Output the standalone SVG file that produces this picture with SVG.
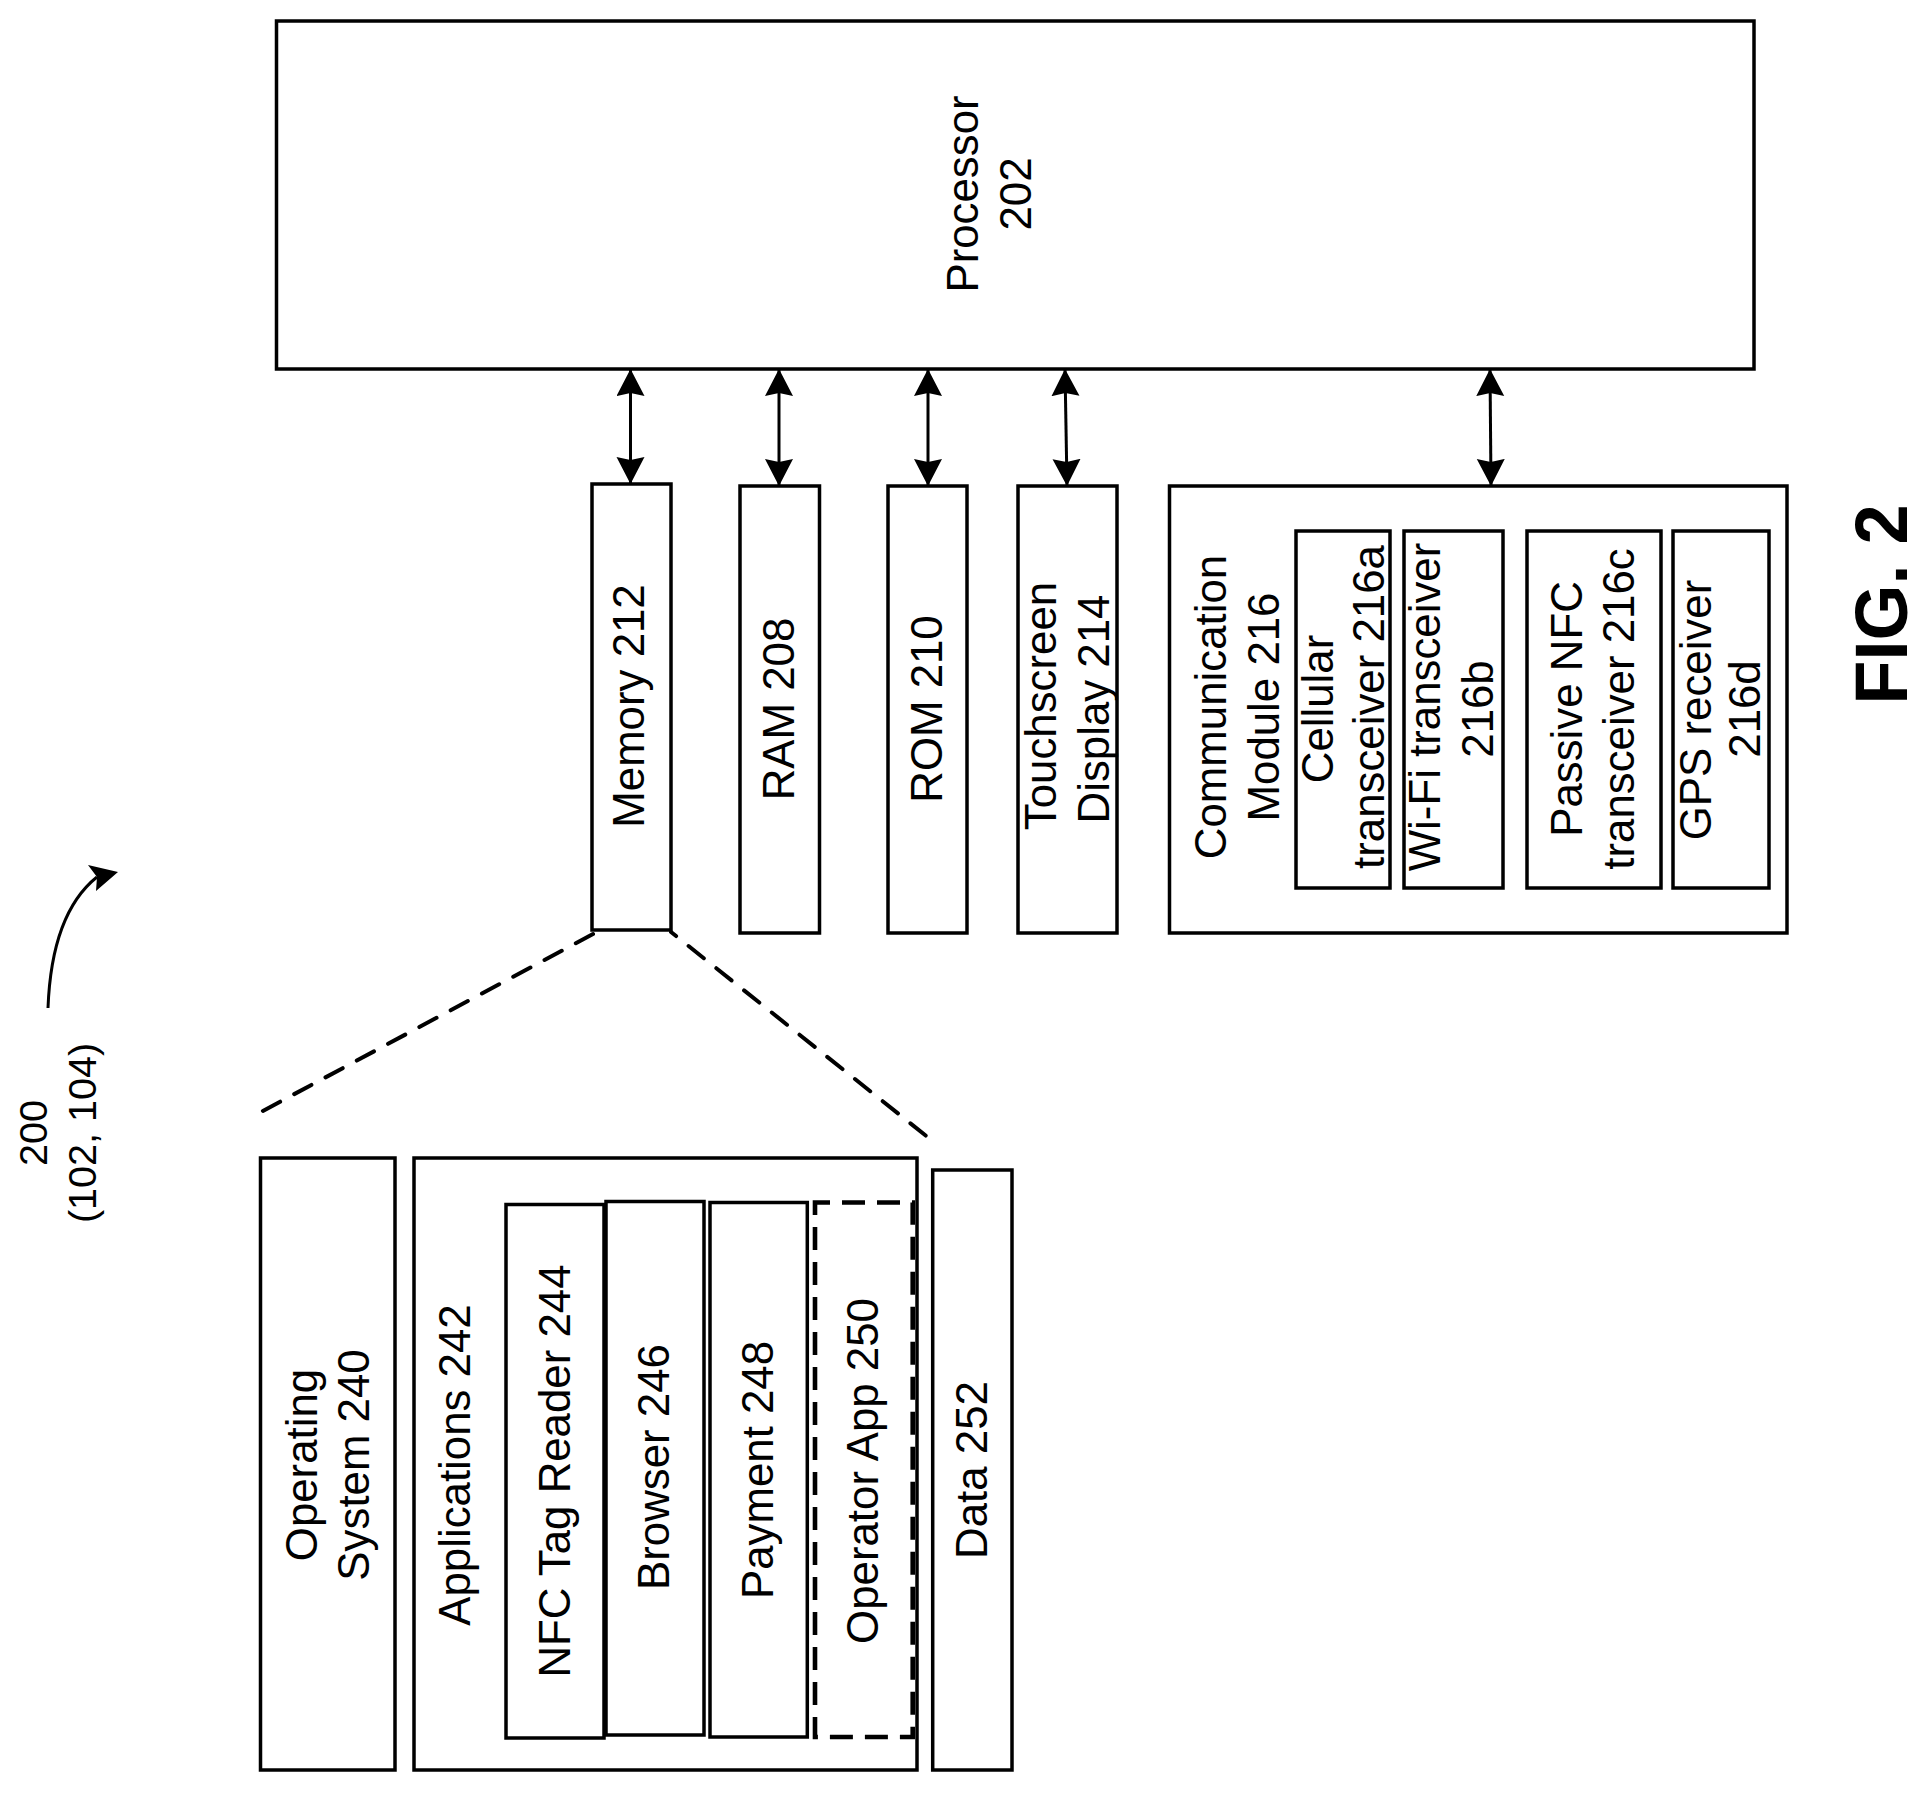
<svg xmlns="http://www.w3.org/2000/svg" width="1927" height="1793" viewBox="0 0 1927 1793">
<style>
.b{fill:#fff;stroke:#000;stroke-width:3.5}
.d{stroke-dasharray:23 12;stroke-dashoffset:8;stroke-width:4.6}
text{font-family:"Liberation Sans",Arial,sans-serif;font-size:43.8px;text-anchor:middle;fill:#000}
.ref{font-size:39.5px}
.fig{font-size:75px;font-weight:bold}
.c{fill:none;stroke:#000;stroke-width:3}
.a{marker-start:url(#ah);marker-end:url(#ah)}
.dl{stroke-dasharray:19.5 16;stroke-width:4;stroke-linecap:round}
</style>
<defs>
<marker id="ah" markerUnits="userSpaceOnUse" markerWidth="30" markerHeight="30" refX="27" refY="14" orient="auto-start-reverse"><path d="M0,0 L27,14 L0,28 L3,14 Z" fill="#000"/></marker>
</defs>
<rect width="1927" height="1793" fill="#fff"/>
<g id="connectors">
<path class="c a" d="M630.5,369V484"/>
<path class="c a" d="M779,369V486"/>
<path class="c a" d="M928,369V486"/>
<path class="c a" d="M1065,369L1067,486"/>
<path class="c a" d="M1490,369L1491,486"/>
<path class="c dl" d="M593,934L259,1113"/>
<path class="c dl" style="stroke-dashoffset:13" d="M671,932L927.500,1137"/>
<path class="c" d="M48,1008C50,955 62,905 97,877"/>
<path d="M118,872L88,865L97,877L96,891Z" fill="#000"/>
</g>
<g id="processor"><rect class="b" x="276.500" y="21" width="1477.500" height="348"/><text transform="translate(978,194) rotate(-90)">Processor</text><text transform="translate(1031,194) rotate(-90)">202</text></g>
<g id="memory"><rect class="b" x="592" y="484" width="79" height="446"/><text transform="translate(644,706) rotate(-90)">Memory 212</text></g>
<g id="ram"><rect class="b" x="740" y="486" width="79.500" height="447"/><text transform="translate(793.500,709) rotate(-90)">RAM 208</text></g>
<g id="rom"><rect class="b" x="888" y="486" width="79" height="447"/><text transform="translate(942,709) rotate(-90)">ROM 210</text></g>
<g id="touchscreen"><rect class="b" x="1018" y="486" width="99" height="447"/><text transform="translate(1056,706) rotate(-90)">Touchscreen</text><text transform="translate(1109,709) rotate(-90)">Display 214</text></g>
<g id="communication"><rect class="b" x="1169.500" y="486" width="617.500" height="447"/><text transform="translate(1226,707) rotate(-90)">Communication</text><text transform="translate(1279,707) rotate(-90)">Module 216</text></g>
<g id="cellular"><rect class="b" x="1296" y="531" width="94" height="357"/><text transform="translate(1332.600,709) rotate(-90)">Cellular</text><text transform="translate(1384,707) rotate(-90)">transceiver 216a</text></g>
<g id="wifi"><rect class="b" x="1404" y="531" width="99" height="357"/><text transform="translate(1440,707) rotate(-90)">Wi-Fi transceiver</text><text transform="translate(1493,709) rotate(-90)">216b</text></g>
<g id="nfc"><rect class="b" x="1527" y="531" width="134" height="357"/><text transform="translate(1582,709) rotate(-90)">Passive NFC</text><text transform="translate(1634,709) rotate(-90)">transceiver 216c</text></g>
<g id="gps"><rect class="b" x="1673" y="531" width="96" height="357"/><text transform="translate(1711,710) rotate(-90)">GPS receiver</text><text transform="translate(1760,709) rotate(-90)">216d</text></g>
<g id="os"><rect class="b" x="260.500" y="1158" width="134.500" height="612"/><text transform="translate(317,1465) rotate(-90)">Operating</text><text transform="translate(369,1465) rotate(-90)">System 240</text></g>
<g id="apps"><rect class="b" x="414" y="1158" width="503" height="612"/><text transform="translate(470,1465) rotate(-90)">Applications 242</text></g>
<g id="nfc-reader"><rect class="b" x="506" y="1204.500" width="98" height="533.500"/><text transform="translate(569.500,1471) rotate(-90)">NFC Tag Reader 244</text></g>
<g id="browser"><rect class="b" x="606" y="1201.500" width="98" height="533.500"/><text transform="translate(669,1467) rotate(-90)">Browser 246</text></g>
<g id="payment"><rect class="b" x="710" y="1202.500" width="97.300" height="534.500"/><text transform="translate(773,1470) rotate(-90)">Payment 248</text></g>
<g id="operator"><rect class="b d" x="815" y="1202.500" width="97.700" height="534.500"/><text transform="translate(878,1471) rotate(-90)">Operator App 250</text></g>
<g id="data"><rect class="b" x="932.700" y="1170" width="79.300" height="600"/><text transform="translate(986.500,1470) rotate(-90)">Data 252</text></g>
<g id="ref200"><text class="ref" transform="translate(47,1133) rotate(-90)">200</text><text class="ref" transform="translate(96,1133) rotate(-90)">(102, 104)</text></g>
<g id="figure"><text class="fig" transform="translate(1907,604.500) rotate(-90) scale(.96,1)">FIG. 2</text></g>
</svg>
